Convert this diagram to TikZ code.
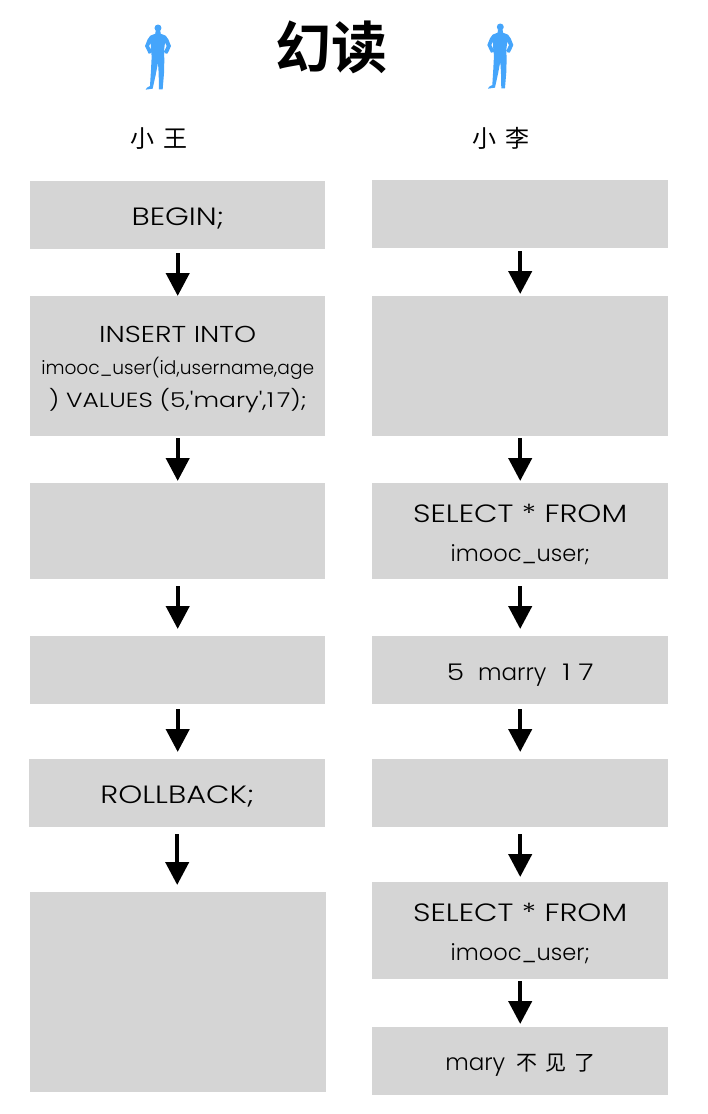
\documentclass[tikz,border=0pt]{standalone}
\usepackage{fontspec}
\usetikzlibrary{arrows.meta}
\newfontfamily\txtfont[UprightFont={* Light}]{Poppins}
\newfontfamily\widefont[UprightFont={* Light},FakeStretch=1.22]{Poppins}
\newfontfamily\cjk{Noto Sans CJK SC}
\newfontfamily\cjkb[UprightFont={* Bold}]{Noto Sans CJK SC}
\definecolor{boxgrey}{HTML}{D5D5D5}
\definecolor{personblue}{HTML}{45A5FB}
\tikzset{
  panel/.style={fill=boxgrey,draw=none,inner sep=0pt,anchor=north west},
  caption/.style={inner sep=0pt,align=center,text=black},
  flow/.style={draw=black,line width=4.3pt,-{Triangle[length=23pt,width=23pt]}},
  who/.style={font=\cjk\fontsize{24}{24}\selectfont,text=black,inner sep=0pt},
}
\newcommand{\bx}[5]{\node[panel,minimum width=#4pt,minimum height=#5pt] (#1) at (#2,#3) {};}
\newcommand{\tx}[3]{\node[caption,yshift=-#2pt] (#1t) at (#1.center) {#3};}
\newcommand{\capsl}{\widefont\fontsize{25}{30}\selectfont}
\newcommand{\lowl}{\txtfont\fontsize{22.5}{30}\selectfont}
\newcommand{\person}[2]{%
  \begin{scope}[shift={(#1,#2)},x=0.3333pt,y=-0.3333pt]
    \fill[personblue] (69,24) circle (10.5);
    \fill[personblue] (62,32) -- (76,32) -- (77,41) -- (92,47) -- (100,58) -- (108,78) -- (102,92) -- (97,101)
      -- (90,100) -- (88,94) -- (95,78) -- (90,68) -- (87,92) -- (88,120) -- (87,160) -- (83,208) -- (72,208)
      -- (71,160) -- (69,128) -- (62,165) -- (53,206) -- (32,209) -- (36,203) -- (45,198) -- (48,150) -- (50,110)
      -- (48,90) -- (47,68) -- (42,78) -- (50,94) -- (47,100) -- (41,101) -- (30,78) -- (38,58) -- (46,47) -- (61,41) -- cycle;
  \end{scope}}
\begin{document}
\begin{tikzpicture}[x=1pt,y=-1pt]
\useasboundingbox (0,0) rectangle (708,1114);
\person{135}{20}
\person{477.3}{19}
\node[font=\cjkb\fontsize{56}{56}\selectfont,inner sep=0pt] (title) at (331,47) {幻读};
\node[who] (wang) at (158.5,139) {小\hspace{9pt}王};
\node[who] (li) at (500.5,138) {小\hspace{9pt}李};
\bx{l1}{30}{181}{295}{68}
\bx{l2}{30}{296}{295}{140}
\bx{l3}{30}{483}{295}{96}
\bx{l4}{30}{636}{295}{68}
\bx{l5}{29}{759}{296}{68}
\bx{l6}{30}{892}{296}{200}
\bx{r1}{372}{180}{296}{68}
\bx{r2}{372}{296}{296}{140}
\bx{r3}{372}{483}{296}{96}
\bx{r4}{372}{636}{296}{68}
\bx{r5}{372}{759}{296}{68}
\bx{r6}{372}{882}{296}{97}
\bx{r7}{372}{1027}{296}{68}
\tx{l1}{3}{\capsl BEGIN;}
\tx{l2}{3.5}{\widefont\fontsize{23}{30}\selectfont INSERT INTO\\[13pt]\txtfont\fontsize{18.6}{30}\selectfont imooc\_user(id,username,age\\[8pt]\widefont\fontsize{20.5}{30}\selectfont) VALUES (5,'mary',1\kern3pt 7);}
\tx{l5}{3}{\capsl ROLLBACK;}
\tx{r3}{3}{\capsl SELECT * FROM\\[21pt]\lowl imooc\_user;}
\tx{r4}{5}{\widefont\fontsize{23}{28}\selectfont 5\hspace{14pt}\txtfont marry\hspace{16pt}\widefont 1\kern8pt 7}
\tx{r6}{3}{\capsl SELECT * FROM\\[21pt]\lowl imooc\_user;}
\tx{r7}{4}{\txtfont\fontsize{23}{28}\selectfont mary\hspace{11pt}{\cjk\fontsize{21}{28}\selectfont 不\hspace{8pt}见\hspace{8pt}了}}
\draw[flow,shorten <=4pt] (l1.south) -- (l2.north);
\draw[flow,shorten <=2pt,shorten >=2pt] (l2.south) -- (l3.north);
\draw[flow,shorten <=7pt,shorten >=7pt] (l3.south) -- (l4.north);
\draw[flow,shorten <=5pt,shorten >=7pt] (l4.south) -- (l5.north-|l4.north);
\draw[flow,shorten <=7pt,shorten >=7pt] (l5.south) -- (l6.north-|l5.south);
\draw[flow,shorten <=3pt,shorten >=2pt] (r1.south) -- (r2.north);
\draw[flow,shorten <=2pt,shorten >=2pt] (r2.south) -- (r3.north);
\draw[flow,shorten <=7pt,shorten >=7pt] (r3.south) -- (r4.north);
\draw[flow,shorten <=5pt,shorten >=7pt] (r4.south) -- (r5.north);
\draw[flow,shorten <=7pt,shorten >=5pt] (r5.south) -- (r6.north);
\draw[flow,shorten <=2pt,shorten >=3pt] (r6.south) -- (r7.north);
\end{tikzpicture}
\end{document}
